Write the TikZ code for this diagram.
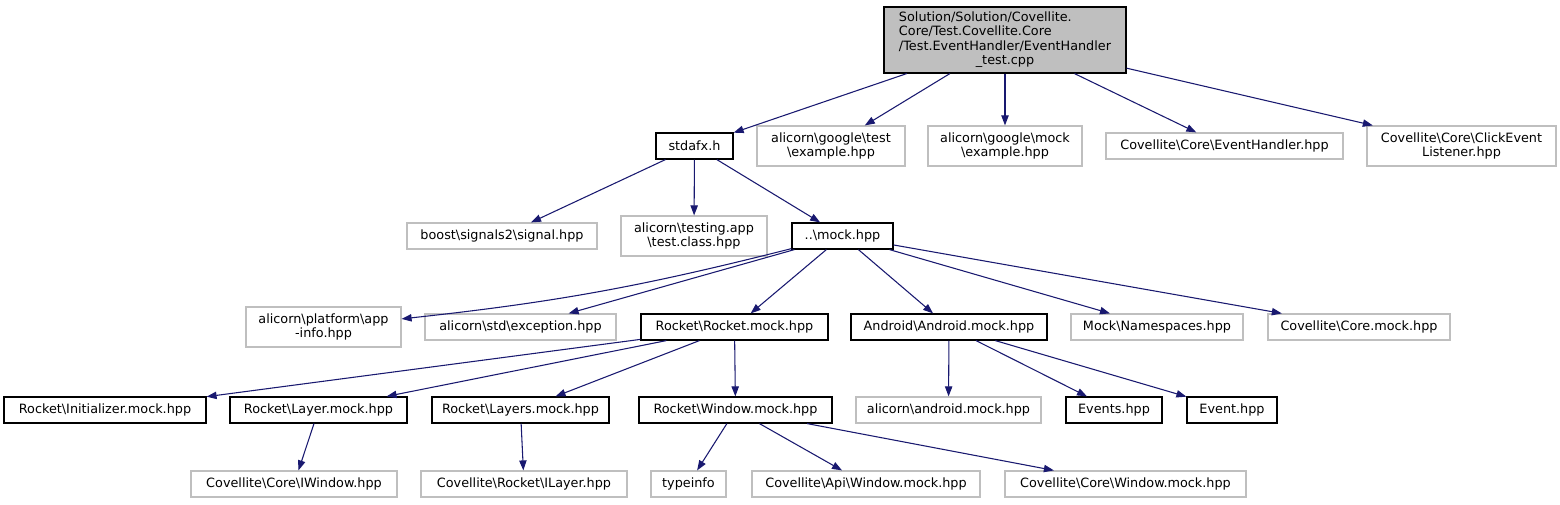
\documentclass[tikz,border=0pt]{standalone}
\usepackage{fontspec}
\setmainfont{DejaVu Sans}
\usepackage{xcolor}
\usetikzlibrary{arrows.meta}
\definecolor{edgeblue}{HTML}{191970}
\definecolor{boxgray}{HTML}{BFBFBF}
\newcommand{\bsl}{\textbackslash}

\begin{document}
\begin{tikzpicture}[
  x=0.75pt, y=-0.75pt,
  every node/.style={font=\fontsize{9.6}{10.9}\selectfont, inner sep=0pt, align=center},
  wd/.style={minimum width={#1*0.75pt}},
  file/.style={draw=black, line width=0.9pt, minimum height=19.5pt},
  ext/.style={draw=boxgray, line width=0.9pt, minimum height=19.5pt},
  ext2/.style={ext, minimum height=30pt},
  edge/.style={draw=edgeblue, line width=0.8pt, -{Triangle[length=7.5pt,width=5.5pt]}}
]
\useasboundingbox[fill=white] (0,0) rectangle (1560,504);
% top file
\node[file, fill=boxgray, wd=242, minimum height=49.5pt] (root) at (1005,40)
  {\begin{tabular}{@{}l@{}}Solution/Solution/Covellite.\\Core/Test.Covellite.Core\\/Test.EventHandler/EventHandler\\\multicolumn{1}{@{}c@{}}{\_test.cpp}\end{tabular}};
% row 1
\node[file, wd=77] (stdafx) at (694.5,146) {stdafx.h};
\node[ext2, wd=148] (gtest) at (831,146) {alicorn\bsl google\bsl test\\\bsl example.hpp};
\node[ext2, wd=154] (gmock) at (1005,146) {alicorn\bsl google\bsl mock\\\bsl example.hpp};
\node[ext, wd=237] (evh) at (1224.5,146) {Covellite\bsl Core\bsl EventHandler.hpp};
\node[ext2, wd=189] (click) at (1461.5,146) {Covellite\bsl Core\bsl ClickEvent\\Listener.hpp};
% row 2
\node[ext, wd=190] (boost) at (502,236) {boost\bsl signals2\bsl signal.hpp};
\node[ext2, wd=146] (testapp) at (694,236) {alicorn\bsl testing.app\\\bsl test.class.hpp};
\node[file, wd=101] (mock) at (842.5,236) {..\bsl mock.hpp};
% row 3
\node[ext2, wd=155] (appinfo) at (323.5,327) {alicorn\bsl platform\bsl app\\-info.hpp};
\node[ext, wd=191] (except) at (520.5,327) {alicorn\bsl std\bsl exception.hpp};
\node[file, wd=187] (rocket) at (734.5,327) {Rocket\bsl Rocket.mock.hpp};
\node[file, wd=196] (android) at (949,327) {Android\bsl Android.mock.hpp};
\node[ext, wd=172] (nspaces) at (1157,327) {Mock\bsl Namespaces.hpp};
\node[ext, wd=182] (coremock) at (1359,327) {Covellite\bsl Core.mock.hpp};
% row 4
\node[file, wd=202] (init) at (105,410) {Rocket\bsl Initializer.mock.hpp};
\node[file, wd=177] (layer) at (318.5,410) {Rocket\bsl Layer.mock.hpp};
\node[file, wd=177] (layers) at (520.5,410) {Rocket\bsl Layers.mock.hpp};
\node[file, wd=193] (window) at (735.5,410) {Rocket\bsl Window.mock.hpp};
\node[ext, wd=185] (amock) at (948.5,410) {alicorn\bsl android.mock.hpp};
\node[file, wd=96] (events) at (1114,410) {Events.hpp};
\node[file, wd=90] (event) at (1232,410) {Event.hpp};
% row 5
\node[ext, wd=206] (iwindow) at (294,484) {Covellite\bsl Core\bsl IWindow.hpp};
\node[ext, wd=206] (ilayer) at (524,484) {Covellite\bsl Rocket\bsl ILayer.hpp};
\node[ext, wd=75] (typeinfo) at (688.5,484) {typeinfo};
\node[ext, wd=228] (apiwin) at (866,484) {Covellite\bsl Api\bsl Window.mock.hpp};
\node[ext, wd=241] (corewin) at (1125.5,484) {Covellite\bsl Core\bsl Window.mock.hpp};
% includes
\foreach \a/\b in {root/stdafx, root/gtest, root/gmock, root/evh, root/click,
  stdafx/boost, stdafx/testapp, stdafx/mock,
  mock/except, mock/rocket, mock/android, mock/nspaces, mock/coremock,
  rocket/init, rocket/layer, rocket/layers, rocket/window,
  android/amock, android/events, android/event,
  layer/iwindow, layers/ilayer,
  window/typeinfo, window/apiwin, window/corewin}
  \draw[edge] (\a) -- (\b);
\draw[edge] (mock) to[bend left=4] (appinfo);
\end{tikzpicture}
\end{document}
